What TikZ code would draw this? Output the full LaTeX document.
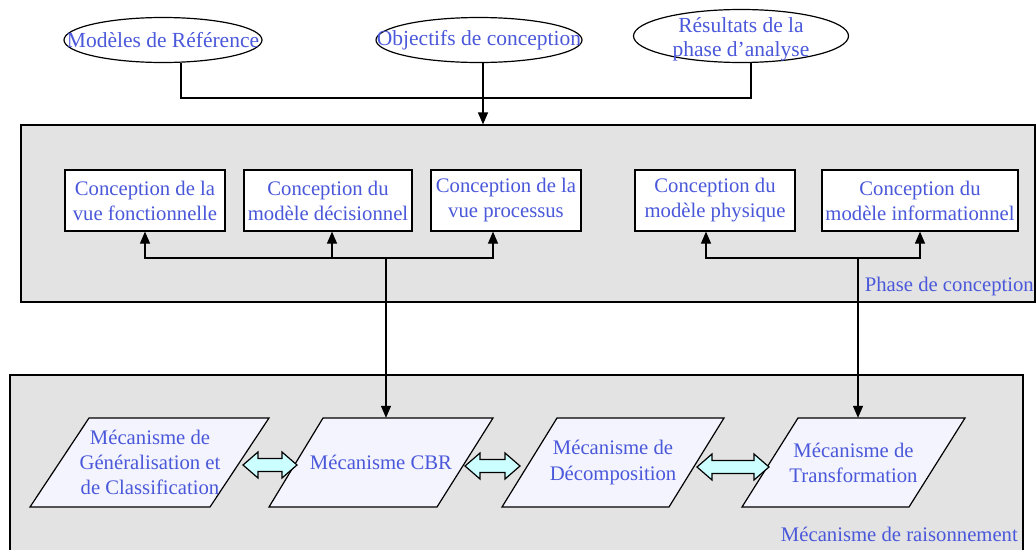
\documentclass[tikz,border=0pt]{standalone}
\usepackage{fontspec}
\setmainfont{Liberation Serif}
\usetikzlibrary{arrows.meta,shapes.geometric}
\definecolor{txtblue}{RGB}{74,88,218}
\definecolor{panelgray}{RGB}{227,227,227}
\definecolor{mechfill}{RGB}{244,244,255}
\definecolor{linkfill}{RGB}{204,255,255}
\tikzset{
  lbl/.style={text=txtblue, font=\fontsize{20.7}{25}\selectfont, align=center, inner sep=0pt},
  ovallbl/.style={lbl, font=\fontsize{21.5}{24}\selectfont},
  panel/.style={draw, fill=panelgray, line width=1.2pt, inner sep=0pt},
  oval/.style={ellipse, draw, line width=1.2pt, inner sep=0pt},
  taskbox/.style={lbl, draw=black, fill=white, line width=1.2pt, inner xsep=1pt, minimum height=61pt},
  mechshape/.style={draw, fill=mechfill, line width=1.2pt, line join=miter},
  linkarrow/.style={draw, fill=linkfill, line width=1.2pt, line join=miter},
  wire/.style={line width=1.2pt},
  arr/.style={wire, -{Triangle[length=12pt,width=10pt]}}
}
% two-headed block arrow: left tip x, right tip x, centre y
\newcommand\linkarr[3]{%
  \path[linkarrow] (#1,#3) -- ({#1+15},{#3-13}) -- ({#1+15},{#3-6.5})
    -- ({#2-15},{#3-6.5}) -- ({#2-15},{#3-13}) -- (#2,#3)
    -- ({#2-15},{#3+13}) -- ({#2-15},{#3+6.5}) -- ({#1+15},{#3+6.5})
    -- ({#1+15},{#3+13}) -- cycle;}
\begin{document}
\begin{tikzpicture}[x=1pt,y=-1pt]
\useasboundingbox (0,0) rectangle (1036,549);
\clip (0,0) rectangle (1036,549);

% sources
\node[oval, minimum width=198pt, minimum height=45pt] (e1) at (163,40) {};
\node[ovallbl] (t1) at (e1.center) {Modèles de Référence};
\node[oval, minimum width=206pt, minimum height=45pt] (e2) at (479,40) {};
\node[ovallbl] (t2) at (e2.center) {Objectifs de conception};
\node[oval, minimum width=215pt, minimum height=53pt] (e3) at (741,36) {};
\node[ovallbl] (t3) at ([yshift=-3.5pt]e3.center) {Résultats de la\\phase d’analyse};

% design phase panel
\node[panel, minimum width=1014pt, minimum height=177pt] (phase) at (528,213.5) {};
\node[lbl, anchor=east] (phaselbl) at (1034,287) {Phase de conception};

\node[taskbox, minimum width=160pt] (b1) at (145,200.5) {Conception de la\\vue fonctionnelle};
\node[taskbox, minimum width=168pt] (b2) at (328,200.5) {Conception du\\modèle décisionnel};
\node[taskbox, minimum width=150pt] (b3) at (506,200.5) {Conception de la\\vue processus};
\node[taskbox, minimum width=160pt] (b4) at (715,200.5) {Conception du\\modèle physique};
\node[taskbox, minimum width=196pt] (b5) at (920,200.5) {Conception du\\modèle informationnel};

% reasoning panel
\node[panel, minimum width=1013pt, minimum height=225pt] (mech) at (516.5,487.5) {};
\node[lbl, anchor=base east] (mechlbl) at (1018,541) {Mécanisme de raisonnement};

\path[mechshape] (89,418) -- (269,418) -- (210,507) -- (30,507) -- cycle;
\path[mechshape] (323,418) -- (493,418) -- (437,507) -- (269,507) -- cycle;
\path[mechshape] (557,418) -- (724,418) -- (669,507) -- (502,507) -- cycle;
\path[mechshape] (798,418) -- (965,418) -- (909,507) -- (742,507) -- cycle;

\node[lbl, minimum height=89pt] (p1) at (150,462.5) {Mécanisme de\\Généralisation et\\de Classification};
\node[lbl, minimum height=89pt] (p2) at (381,462.5) {Mécanisme CBR};
\node[lbl, minimum height=89pt] (p3) at (613,462.5) {Mécanisme de\\Décomposition};
\node[lbl, minimum height=89pt] (p4) at (853.5,462.5) {Mécanisme de\\Transformation};

\linkarr{243}{297}{465}
\linkarr{465}{520}{466}
\linkarr{697}{769}{467}

% inputs gathered into the design phase
\coordinate (jt) at (483,98);
\draw[wire] ([xshift=18pt]e1.south) |- (jt);
\draw[wire] ([xshift=10pt]e3.south) |- (jt);
\draw[arr] ([xshift=4pt]e2.south) -- (jt |- phase.north);

% distribution to the design tasks
\coordinate (jl) at (386,258);
\coordinate (jr) at (858,258);
\draw[arr] (jl) -| (b1.south);
\draw[arr] (jl) -| ([xshift=4pt]b2.south);
\draw[arr] (jl) -| ([xshift=-13pt]b3.south);
\draw[arr] (jr) -| ([xshift=-9pt]b4.south);
\draw[arr] (jr) -| (b5.south);

% links down to the reasoning mechanisms
\draw[arr] (jl) -- (jl |- p2.north);
\draw[arr] (jr) -- (jr |- p4.north);
\end{tikzpicture}
\end{document}
